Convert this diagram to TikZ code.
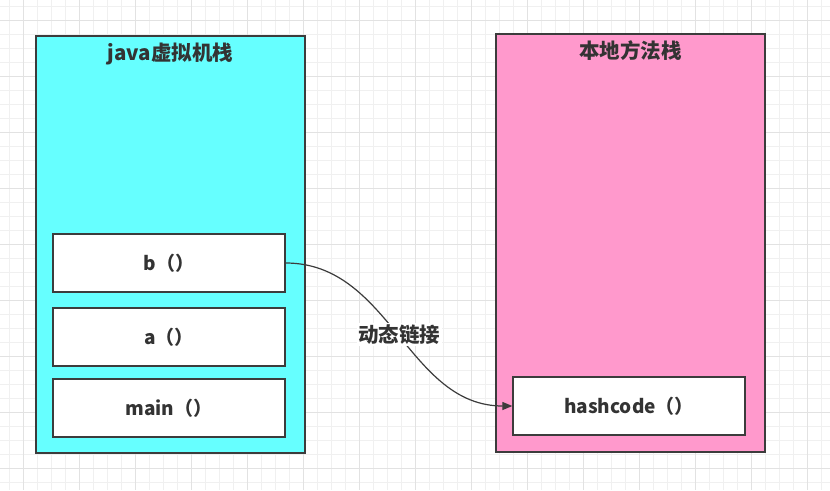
\documentclass[tikz,border=0pt]{standalone}
\usepackage{fontspec}
\setmainfont{Noto Sans CJK SC}
\usetikzlibrary{arrows.meta}
\definecolor{gridminor}{HTML}{F0F0F0}
\definecolor{gridmajor}{HTML}{E2E2E2}
\definecolor{inkgray}{HTML}{333333}
\definecolor{edgegray}{HTML}{3C3C3C}
\definecolor{jvmcyan}{HTML}{66FFFF}
\definecolor{nativepink}{HTML}{FF99CC}
\tikzset{
  stackbox/.style={draw=edgegray, line width=1.3pt, minimum width=269pt, inner sep=0pt},
  framebox/.style={draw=edgegray, fill=white, line width=1.3pt, minimum width=232pt, minimum height=58pt, inner sep=0pt, text=inkgray, font=\bfseries\fontsize{19}{22}\selectfont},
  titletext/.style={anchor=base, text=inkgray, inner sep=0pt, font=\bfseries\fontsize{20.5}{24}\selectfont},
  linklabel/.style={fill=white, inner sep=1.5pt, text=inkgray, font=\bfseries\fontsize{20.5}{24}\selectfont},
  linkline/.style={draw=edgegray, line width=1.2pt, -{Triangle[length=10pt,width=8pt]}}
}
\begin{document}
\begin{tikzpicture}[x=1pt,y=-1pt]
\useasboundingbox (0,0) rectangle (830,490);
\fill[white] (0,0) rectangle (830,490);
% grid
\foreach \i in {0,...,59} {
  \draw[gridminor, line width=0.8pt] ({9.3+14*\i},0) -- ({9.3+14*\i},490);
}
\foreach \i in {0,...,35} {
  \draw[gridminor, line width=0.8pt] (0,{6+14*\i}) -- (830,{6+14*\i});
}
\foreach \i in {0,...,14} {
  \draw[gridmajor, line width=0.8pt] ({23.3+56*\i},0) -- ({23.3+56*\i},490);
}
\foreach \i in {0,...,8} {
  \draw[gridmajor, line width=0.8pt] (0,{20+56*\i}) -- (830,{20+56*\i});
}
% stacks
\node[stackbox, fill=jvmcyan, minimum height=417pt] (jvm) at (170.5,244.5) {};
\node[titletext] (jvmtitle) at ([yshift=-25.5pt]jvm.north) {java虚拟机栈};
\node[stackbox, fill=nativepink, minimum height=418pt] (native) at (630.5,243) {};
\node[titletext] (nativetitle) at ([yshift=-25.5pt]native.north) {本地方法栈};
% frames
\node[framebox] (b) at (169,263) {b（）};
\node[framebox] (a) at (169,337) {a（）};
\node[framebox] (main) at (169,408) {main（）};
\node[framebox] (hash) at (629,406) {hashcode（）};
% link
\draw[linkline] (b.east) to[out=0,in=180] node[linklabel] (lbl) {动态链接} (hash.west);
\end{tikzpicture}
\end{document}
